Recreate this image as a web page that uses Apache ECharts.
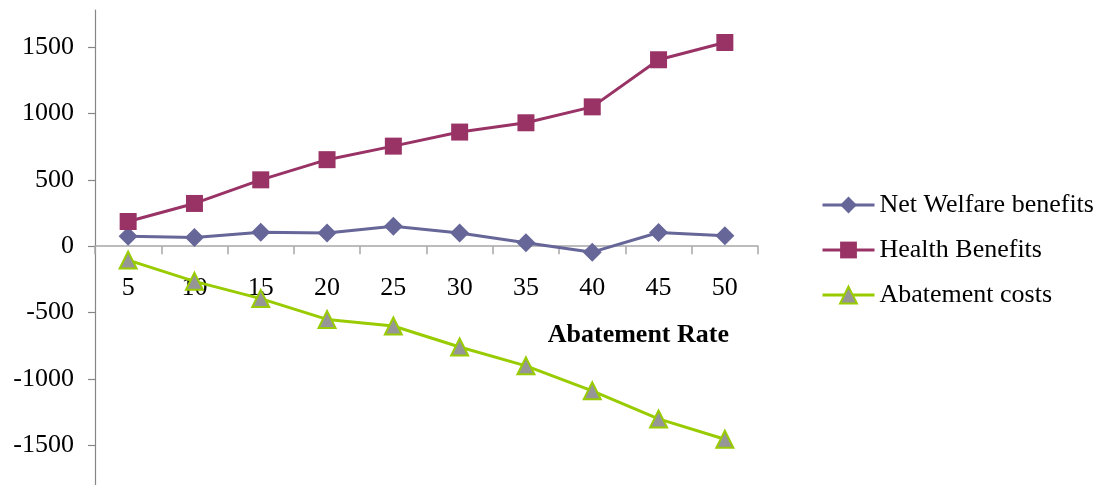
<!DOCTYPE html>
<html>
<head>
<meta charset="utf-8">
<script src="https://cdn.jsdelivr.net/npm/echarts@6/dist/echarts.min.js"></script>
<style>html,body{margin:0;padding:0;background:#fff}#c{width:1102px;height:485px}</style>
</head>
<body>
<div id="c"></div>
<script>
const categories = ['5','10','15','20','25','30','35','40','45','50'];
const netWelfare = [75, 65, 105, 100, 150, 100, 25, -45, 103, 78];
const healthBenefits = [186, 322, 500, 652, 754, 860, 930, 1050, 1405, 1535];
const abatementCosts = [-105, -265, -395, -552, -602, -760, -902, -1090, -1302, -1455];
const yTicks = [-1500, -1000, -500, 0, 500, 1000, 1500];
const xAxisTitle = 'Abatement Rate';

const FONT = 'Liberation Serif';
const chart = echarts.init(document.getElementById('c'));
chart.setOption({
  animation: false,
  backgroundColor: '#fff',
  grid: { left: 95, right: 344, top: 10, bottom: 0, containLabel: false, outerBoundsMode: 'none' },
  legend: {
    orient: 'vertical',
    left: 816,
    top: 187,
    itemWidth: 52,
    itemHeight: 21,
    itemGap: 19,
    lineStyle: { width: 3 },
    textStyle: { fontFamily: FONT, fontSize: 26, color: '#000' },
    data: ['Net Welfare benefits', 'Health Benefits', 'Abatement costs']
  },
  xAxis: {
    type: 'category',
    data: categories,
    boundaryGap: true,
    axisLine: { onZero: true, lineStyle: { color: '#a6a6a6', width: 1.5 } },
    axisTick: { show: true, length: 8, inside: false, alignWithLabel: false, lineStyle: { color: '#a6a6a6', width: 1.5 } },
    axisLabel: { margin: -210, fontFamily: FONT, fontSize: 26, color: '#000', interval: 0 },
    splitLine: { show: false }
  },
  yAxis: {
    type: 'value',
    min: -1800,
    max: 1780,
    axisLine: { show: true, lineStyle: { color: '#868686', width: 1.2 } },
    axisTick: { show: true, length: 7, customValues: yTicks, lineStyle: { color: '#868686', width: 1.2 } },
    axisLabel: { customValues: yTicks, margin: 21, fontFamily: FONT, fontSize: 26, color: '#000', formatter: v => String(v) },
    splitLine: { show: false }
  },
  graphic: [{
    type: 'text',
    right: 1102 - 729,
    top: 322,
    style: { text: xAxisTitle, font: 'bold 26px "Liberation Serif"', fill: '#000' }
  }],
  series: [
    {
      name: 'Net Welfare benefits',
      type: 'line',
      data: netWelfare,
      symbol: 'diamond',
      symbolSize: [19, 19],
      lineStyle: { color: '#666699', width: 3 },
      itemStyle: { color: '#666699' },
      z: 3
    },
    {
      name: 'Health Benefits',
      type: 'line',
      data: healthBenefits,
      symbol: 'rect',
      symbolSize: 17,
      lineStyle: { color: '#993366', width: 3 },
      itemStyle: { color: '#993366' },
      z: 3
    },
    {
      name: 'Abatement costs',
      type: 'line',
      data: abatementCosts,
      symbol: 'triangle',
      symbolSize: [17, 17],
      lineStyle: { color: '#99CC00', width: 3 },
      itemStyle: { color: '#969696', borderColor: '#99CC00', borderWidth: 2 },
      z: 3
    }
  ]
});
</script>
</body>
</html>
